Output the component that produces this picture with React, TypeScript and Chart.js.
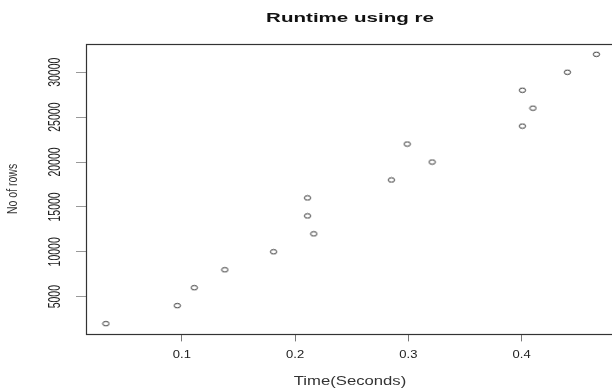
import React, { useEffect, useRef } from "react";
import { Chart, registerables } from "chart.js";

Chart.register(...registerables);

const TITLE = "Runtime using re";
const X_LABEL = "Time(Seconds)";
const Y_LABEL = "No of rows";

const timeSeconds = [0.033, 0.096, 0.111, 0.138, 0.181, 0.2165, 0.211, 0.211, 0.285, 0.321, 0.299, 0.4007, 0.41, 0.4007, 0.4404, 0.466];
const rowCounts = [2000, 4000, 6000, 8000, 10000, 12000, 14000, 16000, 18000, 20000, 22000, 24000, 26000, 28000, 30000, 32000];

const xTickValues = [0.1, 0.2, 0.3, 0.4];
const yTickValues = [5000, 10000, 15000, 20000, 25000, 30000];
const xTickLabels = ["0.1", "0.2", "0.3", "0.4"];
const yTickLabels = ["5000", "10000", "15000", "20000", "25000", "30000"];

const X_MIN = 0.0154;
const X_MAX = 0.4833;
const Y_MIN = 800;
const Y_MAX = 33200;

const W = 625;
const H = 389;
const FONT = "'Liberation Sans', Arial, Helvetica, sans-serif";

function drawText(
  ctx: CanvasRenderingContext2D,
  text: string,
  x: number,
  y: number,
  font: string,
  color: string,
  sx: number,
  rotated: boolean
) {
  ctx.save();
  ctx.translate(x, y);
  ctx.scale(sx, 1);
  if (rotated) ctx.rotate(-Math.PI / 2);
  ctx.font = font;
  ctx.fillStyle = color;
  ctx.textAlign = "center";
  ctx.textBaseline = "alphabetic";
  ctx.fillText(text, 0, 0);
  ctx.restore();
}

export default function App() {
  const ref = useRef<HTMLCanvasElement>(null);

  useEffect(() => {
    const canvas = ref.current;
    if (!canvas) return;
    document.body.style.overflow = "hidden";

    const marker = document.createElement("canvas");
    marker.width = 9;
    marker.height = 7;
    const m = marker.getContext("2d")!;
    m.strokeStyle = "#333";
    m.lineWidth = 1;
    m.beginPath();
    m.ellipse(4.5, 3.5, 3.2, 2.2, 0, 0, Math.PI * 2);
    m.stroke();

    const rStyle = {
      id: "rStyle",
      afterDraw(chart: any) {
        const ctx: CanvasRenderingContext2D = chart.ctx;
        const a = chart.chartArea;
        const xs = chart.scales.x;
        const ys = chart.scales.y;
        ctx.save();
        ctx.strokeStyle = "#333";
        ctx.lineWidth = 1.2;
        const l = Math.round(a.left) + 0.5;
        const t = Math.round(a.top) + 0.5;
        const b = Math.round(a.bottom) + 0.5;
        ctx.strokeRect(l, t, a.right - l, b - t);
        ctx.restore();

        const cx = (a.left + a.right) / 2;
        drawText(ctx, TITLE, cx - 1, 22, `bold 13px ${FONT}`, "#111", 1.58, false);
        drawText(ctx, X_LABEL, cx - 1, 385, `12px ${FONT}`, "#333", 1.39, false);
        drawText(ctx, Y_LABEL, 17.3, (a.top + a.bottom) / 2, `10.5px ${FONT}`, "#333", 1.38, true);

        xTickValues.forEach((v, i) => {
          drawText(ctx, xTickLabels[i], xs.getPixelForValue(v), a.bottom + 24, `10.5px ${FONT}`, "#222", 1.24, false);
        });
        yTickValues.forEach((v, i) => {
          drawText(ctx, yTickLabels[i], a.left - 26, ys.getPixelForValue(v), `10.5px ${FONT}`, "#222", 1.5, true);
        });
      },
    };

    const chart = new Chart(canvas, {
      type: "scatter",
      data: {
        datasets: [
          {
            data: timeSeconds.map((t, i) => ({ x: t, y: rowCounts[i] })),
            pointStyle: marker as any,
            pointRadius: 3,
            borderColor: "#333",
            backgroundColor: "transparent",
          },
        ],
      },
      options: {
        animation: false,
        responsive: false,
        maintainAspectRatio: false,
        layout: { padding: { left: 0, top: 43.5, right: 9, bottom: 0 } },
        plugins: {
          legend: { display: false },
          title: { display: false },
          tooltip: { enabled: false },
        },
        events: [],
        scales: {
          x: {
            type: "linear",
            min: X_MIN,
            max: X_MAX,
            afterBuildTicks: (s: any) => {
              s.ticks = xTickValues.map((v) => ({ value: v }));
            },
            afterFit: (s: any) => {
              s.height = H - 334.4;
            },
            ticks: { display: false },
            grid: {
              display: true,
              drawOnChartArea: false,
              drawTicks: true,
              tickLength: 7,
              color: "#777",
              lineWidth: 1,
            },
            border: { display: false },
          },
          y: {
            type: "linear",
            min: Y_MIN,
            max: Y_MAX,
            afterBuildTicks: (s: any) => {
              s.ticks = yTickValues.map((v) => ({ value: v }));
            },
            afterFit: (s: any) => {
              s.width = 86;
            },
            ticks: { display: false },
            grid: {
              display: true,
              drawOnChartArea: false,
              drawTicks: true,
              tickLength: 10,
              color: "#999",
              lineWidth: 1,
            },
            border: { display: false },
          },
        },
      },
      plugins: [rStyle],
    });

    return () => {
      chart.destroy();
    };
  }, []);

  return (
    <div style={{ position: "fixed", left: 0, top: 0, width: W, height: H, background: "#fff" }}>
      <canvas ref={ref} width={W} height={H} style={{ width: W, height: H, display: "block" }} />
    </div>
  );
}
